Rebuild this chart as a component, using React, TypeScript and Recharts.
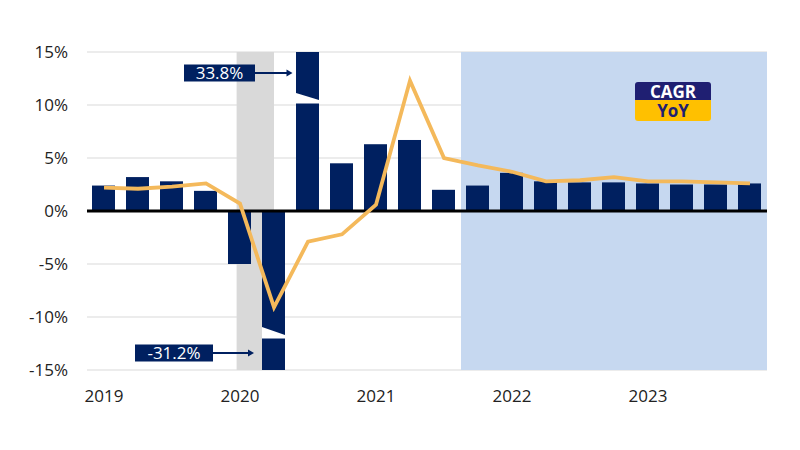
import React from 'react';
import {
  ComposedChart, Bar, Line, XAxis, YAxis, CartesianGrid, ReferenceArea, ReferenceLine, LabelList,
} from 'recharts';

// Quarterly growth, 2019Q1 - 2023Q4
const quarters = [
  '2019Q1', '2019Q2', '2019Q3', '2019Q4',
  '2020Q1', '2020Q2', '2020Q3', '2020Q4',
  '2021Q1', '2021Q2', '2021Q3', '2021Q4',
  '2022Q1', '2022Q2', '2022Q3', '2022Q4',
  '2023Q1', '2023Q2', '2023Q3', '2023Q4',
];
const cagr = [2.4, 3.2, 2.8, 1.9, -5.0, -31.2, 33.8, 4.5, 6.3, 6.7, 2.0, 2.4, 3.6, 2.8, 2.7, 2.7, 2.6, 2.5, 2.5, 2.6];
const yoy = [2.2, 2.1, 2.3, 2.6, 0.7, -9.1, -2.9, -2.2, 0.6, 12.3, 5.0, 4.3, 3.7, 2.8, 2.9, 3.2, 2.8, 2.8, 2.7, 2.6];

const yearTicks = [0, 4, 8, 12, 16];
const yearLabels = ['2019', '2020', '2021', '2022', '2023'];
const yTicks = [-15, -10, -5, 0, 5, 10, 15];

// shaded periods, in quarter-index units
const recession = [3.9, 5.0];
const forecast = [10.5, 19.5];

const Y_MIN = -15;
const Y_MAX = 15;

const data = quarters.map((q, i) => ({
  q,
  t: i,
  cagr: cagr[i],
  cagrShown: Math.max(Y_MIN, Math.min(Y_MAX, cagr[i])),
  yoy: yoy[i],
}));

const NAVY = '#002060';
const FONT = '"Open Sans", "Noto Sans", sans-serif';

const BrokenBar = (props: any) => {
  const { x, y, width, height, payload } = props;
  const top = Math.min(y, y + height);
  const bottom = Math.max(y, y + height);
  const h = bottom - top;
  let wedge = null;
  if (payload.cagr > Y_MAX) {
    wedge = `${x},${top + 41} ${x + width},${top + 48} ${x + width},${top + 51.5} ${x},${top + 51.5}`;
  } else if (payload.cagr < Y_MIN) {
    wedge = `${x},${bottom - 43} ${x + width},${bottom - 35} ${x + width},${bottom - 31.5} ${x},${bottom - 31.5}`;
  }
  return (
    <g>
      <rect x={x} y={top} width={width} height={h} fill={NAVY} />
      {wedge && <polygon points={wedge} fill="#fff" />}
    </g>
  );
};

const renderCallout = (props: any) => {
  const { x, y, height, value } = props;
  if (value <= Y_MAX && value >= Y_MIN) return null;
  const top = Math.min(y, y + height);
  const bottom = Math.max(y, y + height);
  const positive = value > Y_MAX;
  const boxW = positive ? 71 : 78;
  const gap = positive ? 41 : 49;
  const cy = positive ? top + 21 : bottom - 17;
  const right = x - gap;
  const tip = positive ? x - 3.5 : x - 8;
  return (
    <g>
      <rect x={right - boxW} y={cy - 8.5} width={boxW} height={17} fill={NAVY} />
      <text x={right - boxW / 2} y={cy + 6} textAnchor="middle" fill="#fff" fontSize={17} fontFamily={FONT}>
        {`${value.toFixed(1)}%`}
      </text>
      <line x1={right} y1={cy} x2={tip - 5} y2={cy} stroke={NAVY} strokeWidth={2} />
      <polygon points={`${tip},${cy} ${tip - 6},${cy - 3.5} ${tip - 6},${cy + 3.5}`} fill={NAVY} />
    </g>
  );
};

const SeriesKey = () => (
  <div style={{
    position: 'absolute', top: 82, left: 635, width: 76,
    fontFamily: FONT, fontWeight: 700, fontSize: 17, textAlign: 'center',
  }}>
    <div style={{ background: '#1f1f72', color: '#fff', height: 18, lineHeight: '19px', borderRadius: '3px 3px 0 0' }}>CAGR</div>
    <div style={{ background: '#FFC000', color: '#1f1f72', height: 21, lineHeight: '21px', borderRadius: '0 0 3px 3px' }}>YoY</div>
  </div>
);

export default function App() {
  return (
    <div style={{ margin: -8, width: 800, height: 450, background: '#fff', position: 'relative' }}>
      <ComposedChart
        width={800}
        height={450}
        data={data}
        margin={{ top: 52, right: 33, bottom: 50, left: 0 }}
      >
        <CartesianGrid vertical={false} stroke="#d9d9d9" />
        <XAxis
          dataKey="t"
          type="number"
          domain={[-0.5, 19.5]}
          ticks={yearTicks}
          tickFormatter={(v: number) => yearLabels[yearTicks.indexOf(v)]}
          axisLine={false}
          tickLine={false}
          height={30}
          tickMargin={14}
          tick={{ fill: '#222', fontSize: 17, fontFamily: FONT }}
        />
        <YAxis
          domain={[Y_MIN, Y_MAX]}
          ticks={yTicks}
          allowDataOverflow
          width={87}
          axisLine={false}
          tickLine={false}
          tickSize={0}
          tickMargin={19}
          tickFormatter={(v: number) => `${v}%`}
          tick={{ fill: '#222', fontSize: 17, fontFamily: FONT }}
        />
        <ReferenceArea x1={recession[0]} x2={recession[1]} y1={Y_MIN} y2={Y_MAX} fill="#d9d9d9" fillOpacity={1} stroke="none" />
        <ReferenceArea x1={forecast[0]} x2={forecast[1]} y1={Y_MIN} y2={Y_MAX} fill="#c6d8f0" fillOpacity={1} stroke="none" />
        <Bar dataKey="cagrShown" barSize={23} shape={BrokenBar} isAnimationActive={false}>
          <LabelList dataKey="cagr" content={renderCallout} />
        </Bar>
        <ReferenceLine y={0} stroke="#000" strokeWidth={3} />
        <Line
          dataKey="yoy"
          type="linear"
          stroke="#F4B95B"
          strokeWidth={3.8}
          dot={false}
          activeDot={false}
          isAnimationActive={false}
        />
      </ComposedChart>
      <SeriesKey />
    </div>
  );
}
